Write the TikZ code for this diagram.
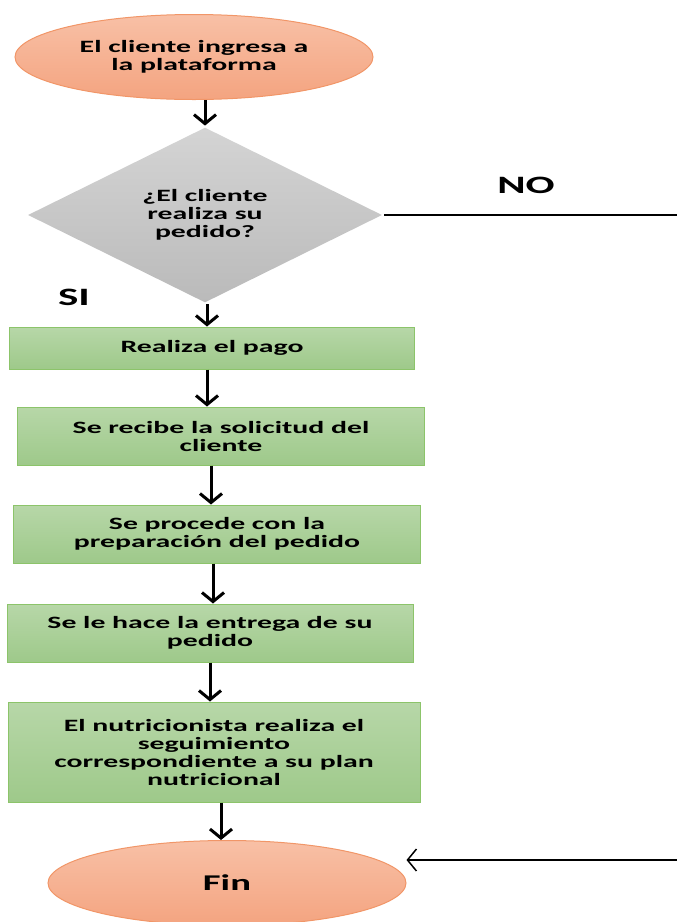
\documentclass[tikz,border=0pt]{standalone}
\usepackage{fontspec}
\setmainfont{Carlito}[FakeStretch=1.72]
\usetikzlibrary{shapes.geometric, arrows.meta}

\definecolor{orangetop}{RGB}{248,192,166}
\definecolor{orangebot}{RGB}{244,164,128}
\definecolor{orangeline}{RGB}{241,150,104}
\definecolor{greentop}{RGB}{183,215,168}
\definecolor{greenbot}{RGB}{158,201,138}
\definecolor{greenline}{RGB}{140,196,106}
\definecolor{graytop}{RGB}{212,212,212}
\definecolor{graybot}{RGB}{186,186,186}

\begin{document}
\begin{tikzpicture}[
                x = 1pt, y = -1pt, % pixel coordinates, y downwards
                > = {Straight Barb[length=9pt, width=22pt]}, % arrow head style
                line width = 3pt % line style
            ]

            \tikzstyle{every node}=[inner sep = 0pt, align = center,
            font = \bfseries\fontsize{17.3}{18}\selectfont]
            \tikzstyle{terminal}=[ellipse, draw = orangeline, line width = 1pt,
            top color = orangetop, bottom color = orangebot,
            minimum width = 358pt, minimum height = 85pt]
            \tikzstyle{decision}=[diamond, top color = graytop, bottom color = graybot,
            minimum width = 355pt, minimum height = 156pt]
            \tikzstyle{process}=[rectangle, draw = greenline, line width = 1pt,
            top color = greentop, bottom color = greenbot]
            \tikzstyle{answer}=[font = \bfseries\fontsize{25}{28}\selectfont]

            \useasboundingbox (0,0) rectangle (677,922);

            \node (start) [terminal] at (194,57) {El cliente ingresa a\\la plataforma};
            \node (ask) [decision] at (205,215) {¿El cliente\\realiza su\\pedido?};
            \node (pay) [process, minimum width = 405pt, minimum height = 42pt]
            at (212,348) {Realiza el pago};
            \node (order) [process, minimum width = 407pt, minimum height = 58pt]
            at (221,436) {Se recibe la solicitud del\\cliente};
            \node (prep) [process, minimum width = 407pt, minimum height = 58pt]
            at (217,534) {Se procede con la\\preparación del pedido};
            \node (deliver) [process, minimum width = 406pt, minimum height = 58pt]
            at (210,633) {Se le hace la entrega de su\\pedido};
            \node (follow) [process, minimum width = 412pt, minimum height = 100pt]
            at (214,752) {El nutricionista realiza el\\seguimiento\\correspondiente a su plan\\nutricional};
            \node (fin) [terminal, font = \bfseries\fontsize{22.5}{24}\selectfont]
            at (227,883) {Fin};

            \node (no) [answer] at (526,185) {NO};
            \node (si) [answer] at (74,297) {SI};
            \coordinate (noright) at (677,215);
            \coordinate (noback) at (677,860);

            \draw[->] (ask.north |- start.south) -- (ask.north);
            \draw[->] ([xshift=2pt]ask.south) -- ([xshift=2pt]ask.south |- pay.north);
            \draw[->] ([xshift=-5pt]pay.south) -- ([xshift=-5pt]pay.south |- order.north);
            \draw[->] ([xshift=-10pt]order.south) -- ([xshift=-10pt]order.south |- prep.north);
            \draw[->] ([xshift=-4pt]prep.south) -- ([xshift=-4pt]prep.south |- deliver.north);
            \draw[->] (deliver.south) -- (deliver.south |- follow.north);
            \draw[->] ([xshift=7pt]follow.south) -- ([xshift=7pt]follow.south |- fin.north);
            \path[-, line width = 1.5pt] (ask.east) edge (noright);
            \path[->, line width = 1.5pt] (noback) edge (noback -| fin.east);

        \end{tikzpicture}
\end{document}
